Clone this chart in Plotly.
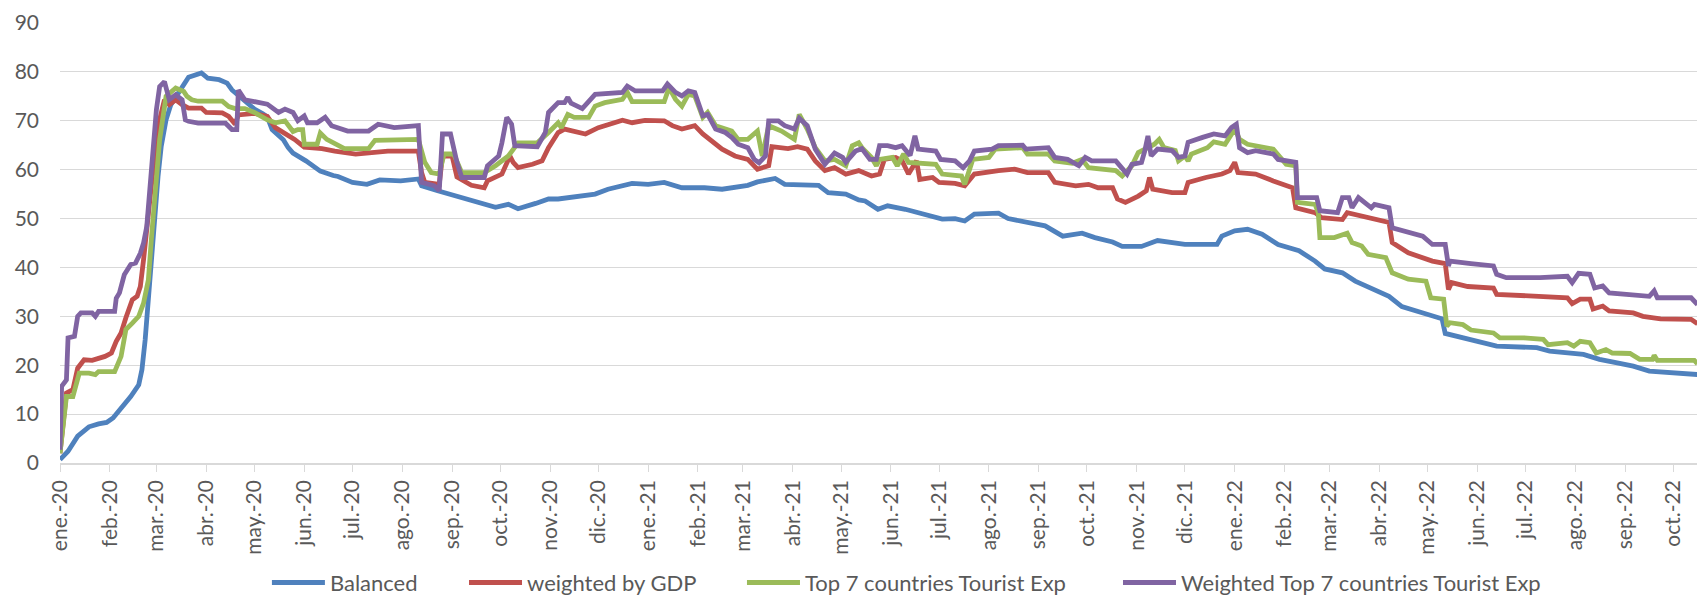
import pandas as pd
import plotly.graph_objects as go

# Day offsets are counted from 1 January 2020
start = pd.Timestamp("2020-01-01")

bal_day = [0, 5, 11, 18, 24, 29, 33, 38, 44, 49, 51, 53, 55, 57, 59, 61, 63, 66, 69, 74, 80, 88, 92, 99,
           104, 107, 113, 118, 121, 126, 129, 132, 139, 142, 145, 153, 162, 170, 173, 182, 191, 199, 212,
           223, 225, 235, 246, 256, 271, 279, 285, 296, 304, 310, 320, 333, 341, 356, 366, 376, 387, 401,
           412, 428, 434, 445, 451, 459, 472, 478, 489, 497, 501, 509, 515, 526, 538, 549, 557, 563, 569,
           584, 590, 601, 613, 624, 636, 644, 655, 661, 673, 683, 700, 720, 723, 731, 739, 748, 758, 771,
           781, 787, 798, 806, 818, 827, 835, 848, 860, 862, 870, 876, 894, 919, 927, 948, 958, 969, 979,
           989, 1002, 1019]
bal_val = [0.7, 2.4, 5.5, 7.4, 8.0, 8.3, 9.2, 11.2, 13.6, 16.0, 19.1, 25.2, 34.1, 42.9, 51.1, 58.6, 64.8,
           70.2, 73.3, 76.0, 78.9, 79.8, 78.7, 78.4, 77.7, 76.3, 74.6, 73.0, 72.4, 71.5, 70.8, 68.2, 66.1,
           64.5, 63.4, 61.8, 59.7, 58.8, 58.6, 57.4, 57.0, 57.9, 57.7, 58.1, 56.7, 55.7, 54.6, 53.6, 52.3,
           52.9, 52.0, 53.1, 54.0, 54.0, 54.4, 55.0, 56.0, 57.2, 57.0, 57.4, 56.3, 56.3, 56.0, 56.8, 57.5,
           58.2, 57.0, 57.0, 56.8, 55.3, 55.0, 53.8, 53.6, 51.9, 52.6, 51.9, 50.9, 49.9, 50.0, 49.5, 50.9,
           51.1, 50.0, 49.3, 48.5, 46.4, 47.0, 46.1, 45.2, 44.3, 44.3, 45.5, 44.7, 44.7, 46.4, 47.5, 47.8,
           46.8, 44.7, 43.4, 41.3, 39.7, 38.9, 37.2, 35.5, 34.1, 32.0, 30.7, 29.5, 26.5, 25.9, 25.3, 23.9,
           23.6, 22.9, 22.2, 21.2, 20.5, 19.8, 18.8, 18.4, 18.1]

gdp_day = [0, 4, 8, 11, 15, 20, 28, 32, 35, 38, 41, 45, 48, 50, 52, 54, 57, 59, 62, 65, 68, 72, 76, 80,
           88, 91, 101, 105, 109, 111, 121, 129, 134, 140, 146, 152, 163, 171, 184, 194, 204, 223, 225,
           227, 236, 238, 244, 247, 256, 264, 266, 275, 280, 282, 285, 294, 300, 304, 310, 314, 322, 327,
           335, 350, 356, 364, 376, 381, 387, 395, 400, 406, 412, 420, 428, 434, 441, 443, 453, 459, 465,
           470, 476, 482, 489, 497, 505, 510, 513, 520, 524, 528, 533, 535, 543, 547, 557, 563, 569, 584,
           594, 602, 615, 619, 632, 640, 646, 655, 658, 663, 671, 676, 678, 680, 692, 700, 702, 713, 723,
           728, 731, 733, 744, 755, 767, 769, 781, 785, 798, 801, 810, 827, 829, 839, 854, 862, 864, 866,
           876, 892, 894, 923, 938, 941, 946, 952, 954, 960, 964, 979, 985, 996, 1015, 1019]
gdp_val = [2.0, 14.3, 15.0, 19.4, 21.1, 21.0, 21.8, 22.5, 24.9, 26.6, 29.7, 33.4, 34.1, 36.1, 41.6, 48.4,
           56.6, 63.4, 70.2, 74.3, 73.3, 74.3, 73.3, 72.6, 72.6, 71.7, 71.6, 70.9, 69.3, 71.2, 71.5, 70.9,
           68.6, 67.5, 66.2, 64.6, 64.3, 63.8, 63.2, 63.5, 63.8, 63.8, 59.4, 57.4, 57.0, 62.8, 62.8, 58.5,
           56.8, 56.3, 57.7, 59.1, 62.8, 61.5, 60.4, 61.1, 61.8, 64.5, 67.6, 68.3, 67.7, 67.3, 68.6, 70.1,
           69.6, 70.1, 70.0, 69.0, 68.3, 69.0, 67.3, 65.9, 64.2, 62.8, 62.1, 60.1, 60.8, 64.7, 64.3, 64.7,
           64.2, 61.8, 59.8, 60.4, 59.1, 59.8, 58.7, 59.1, 62.1, 62.5, 61.8, 59.1, 61.8, 58.0, 58.4, 57.4,
           57.2, 56.7, 59.1, 59.8, 60.1, 59.4, 59.4, 57.4, 56.7, 57.0, 56.3, 56.3, 54.0, 53.3, 54.6, 55.7,
           58.4, 56.0, 55.3, 55.3, 57.4, 58.4, 59.1, 59.8, 61.5, 59.4, 59.1, 57.7, 56.3, 52.2, 51.2, 50.2,
           49.8, 51.2, 50.5, 49.2, 45.1, 43.0, 41.3, 40.8, 35.5, 36.9, 36.1, 35.8, 34.5, 34.1, 33.8, 32.6,
           33.5, 33.5, 31.5, 32.1, 31.1, 30.7, 30.0, 29.5, 29.4, 28.5]

top7_day = [0, 4, 8, 12, 18, 22, 24, 34, 38, 41, 45, 49, 52, 55, 57, 59, 62, 66, 72, 77, 79, 82, 86, 101,
            105, 109, 115, 121, 129, 134, 140, 145, 148, 151, 152, 160, 162, 166, 177, 192, 196, 223, 227,
            231, 236, 239, 245, 250, 264, 271, 279, 285, 297, 304, 310, 312, 316, 320, 329, 333, 339, 350,
            353, 356, 376, 379, 383, 387, 391, 395, 400, 403, 408, 418, 422, 428, 432, 434, 437, 441, 449,
            457, 460, 465, 470, 476, 482, 489, 493, 497, 499, 505, 508, 510, 518, 521, 525, 528, 545, 549,
            561, 563, 568, 578, 582, 599, 602, 615, 619, 630, 636, 640, 657, 661, 667, 671, 677, 681, 684,
            687, 694, 696, 700, 702, 704, 714, 718, 725, 731, 734, 739, 755, 763, 769, 770, 781, 783, 784,
            793, 801, 804, 810, 814, 825, 829, 839, 850, 853, 861, 863, 865, 873, 878, 892, 896, 911, 923,
            926, 938, 942, 946, 952, 956, 962, 966, 977, 983, 991, 992, 994, 1017, 1019]
top7_val = [2.0, 13.6, 13.6, 18.4, 18.4, 18.1, 18.7, 18.7, 21.8, 27.3, 28.6, 30.0, 32.7, 37.5, 46.4, 55.2,
            66.1, 75.0, 76.7, 76.0, 75.0, 74.3, 74.0, 74.0, 72.9, 72.5, 72.5, 71.7, 70.2, 69.6, 70.0, 67.8,
            68.2, 68.2, 65.2, 65.2, 67.5, 66.2, 64.3, 64.3, 66.0, 66.2, 61.5, 59.4, 59.1, 63.2, 63.2, 59.4,
            59.4, 60.8, 62.8, 65.5, 65.5, 67.6, 69.6, 68.6, 71.3, 70.7, 70.7, 73.0, 73.7, 74.4, 75.8, 73.9,
            73.9, 76.8, 74.4, 73.0, 75.4, 75.1, 70.7, 71.7, 69.0, 67.9, 66.2, 66.2, 67.3, 67.9, 62.8, 69.0,
            67.9, 66.2, 71.3, 68.3, 64.5, 61.8, 62.1, 60.8, 64.9, 65.5, 64.5, 62.5, 60.8, 62.1, 62.5, 60.8,
            63.2, 61.5, 61.1, 59.1, 58.7, 57.0, 62.1, 62.5, 64.2, 64.5, 63.2, 63.2, 61.8, 61.3, 62.1, 60.4,
            59.8, 58.7, 60.8, 63.5, 64.5, 65.2, 66.2, 64.5, 63.9, 61.8, 62.8, 61.8, 63.2, 64.5, 65.7, 65.2,
            68.3, 66.2, 65.2, 64.2, 61.1, 60.8, 53.3, 52.9, 51.2, 46.1, 46.1, 47.0, 45.1, 44.4, 42.7, 42.0,
            38.9, 37.6, 37.2, 33.8, 33.5, 28.0, 28.7, 28.3, 27.2, 26.6, 25.6, 25.6, 25.3, 24.2, 24.6, 23.9,
            24.9, 24.6, 22.5, 23.2, 22.5, 22.4, 21.2, 21.2, 22.0, 21.0, 21.0, 20.3]

wtop7_day = [0, 1, 4, 5, 9, 11, 13, 20, 22, 24, 34, 35, 37, 40, 44, 47, 50, 52, 54, 56, 58, 60, 62, 65,
             68, 72, 76, 78, 80, 86, 103, 107, 110, 111, 115, 121, 129, 136, 140, 145, 148, 152, 154, 160,
             165, 169, 179, 192, 198, 208, 219, 223, 225, 233, 236, 238, 243, 247, 250, 264, 266, 273, 275,
             278, 281, 283, 297, 302, 304, 310, 314, 316, 318, 325, 333, 350, 353, 358, 375, 378, 383, 387,
             391, 395, 400, 403, 408, 414, 418, 422, 428, 432, 435, 439, 441, 447, 451, 457, 460, 465, 470,
             476, 482, 487, 489, 495, 499, 504, 508, 510, 515, 520, 524, 529, 532, 534, 545, 548, 557, 562,
             566, 569, 580, 584, 599, 601, 615, 619, 627, 634, 638, 642, 657, 661, 664, 667, 673, 675, 677,
             679, 683, 692, 696, 700, 702, 711, 718, 725, 729, 732, 734, 739, 744, 755, 758, 769, 770, 782,
             784, 795, 798, 802, 804, 808, 816, 818, 827, 829, 839, 848, 854, 862, 864, 865, 878, 892, 894,
             900, 921, 938, 941, 945, 952, 955, 960, 964, 989, 992, 994, 1015, 1019]
wtop7_val = [2.7, 15.7, 17.0, 25.6, 25.9, 30.0, 30.7, 30.7, 30.0, 31.0, 31.0, 33.7, 34.8, 38.5, 40.6, 40.9,
             42.9, 45.0, 48.4, 56.6, 65.4, 72.3, 77.0, 78.0, 74.3, 75.3, 74.3, 70.2, 69.9, 69.5, 69.5, 68.2,
             68.2, 76.3, 74.3, 74.0, 73.4, 71.7, 72.4, 71.7, 70.0, 71.0, 69.6, 69.6, 70.7, 69.0, 67.9, 67.9,
             69.3, 68.6, 69.0, 69.0, 57.4, 56.7, 55.7, 67.3, 67.3, 61.5, 58.4, 58.4, 60.8, 62.8, 65.5, 70.7,
             69.3, 64.9, 64.7, 67.6, 71.7, 73.7, 73.7, 74.8, 73.6, 72.5, 75.4, 75.8, 77.1, 76.1, 76.1, 77.5,
             75.8, 75.1, 76.1, 75.8, 71.0, 71.3, 68.3, 67.6, 66.6, 65.2, 64.5, 62.1, 61.4, 62.8, 70.0, 70.0,
             69.0, 68.3, 70.5, 69.0, 64.2, 61.1, 63.4, 62.5, 61.5, 63.8, 64.3, 62.1, 62.1, 64.9, 64.9, 64.5,
             64.9, 62.9, 66.9, 64.2, 63.8, 62.1, 61.8, 60.4, 61.8, 63.8, 64.2, 64.9, 65.0, 64.2, 64.5, 62.5,
             62.1, 60.8, 62.5, 61.8, 61.8, 60.1, 59.1, 61.1, 61.5, 63.8, 66.9, 62.8, 64.2, 63.9, 62.5, 62.8,
             65.6, 66.6, 67.3, 66.9, 68.6, 69.3, 64.5, 63.5, 63.9, 63.2, 62.1, 61.5, 54.3, 54.3, 51.6, 51.2,
             54.3, 54.3, 52.2, 54.3, 52.2, 52.9, 52.2, 48.1, 47.1, 46.4, 44.7, 44.7, 40.3, 41.3, 40.8, 40.3,
             38.6, 37.9, 37.9, 38.2, 36.9, 38.8, 38.6, 35.8, 36.2, 34.8, 34.1, 35.2, 33.8, 33.8, 32.4]

month_ticks = pd.date_range("2020-01-01", "2022-10-01", freq="MS")
month_labels = ["ene.-20", "feb.-20", "mar.-20", "abr.-20", "may.-20", "jun.-20", "jul.-20", "ago.-20",
                "sep.-20", "oct.-20", "nov.-20", "dic.-20",
                "ene.-21", "feb.-21", "mar.-21", "abr.-21", "may.-21", "jun.-21", "jul.-21", "ago.-21",
                "sep.-21", "oct.-21", "nov.-21", "dic.-21",
                "ene.-22", "feb.-22", "mar.-22", "abr.-22", "may.-22", "jun.-22", "jul.-22", "ago.-22",
                "sep.-22", "oct.-22"]

series = [
    ("Balanced", bal_day, bal_val, "#4F81BD", "legend", 0.1264),
    ("weighted by GDP", gdp_day, gdp_val, "#C0504D", "legend2", 0.2468),
    ("Top 7 countries Tourist Exp", top7_day, top7_val, "#9BBB59", "legend3", 0.4166),
    ("Weighted Top 7 countries Tourist Exp", wtop7_day, wtop7_val, "#8064A2", "legend4", 0.6463),
]

grey = "#595959"
font = "Lato, 'Open Sans', sans-serif"

fig = go.Figure()
legends = {}
for name, days, vals, color, leg, lx in series:
    dates = start + pd.to_timedelta(days, unit="D")
    fig.add_trace(go.Scatter(x=dates, y=vals, mode="lines", name=name, legend=leg,
                             line=dict(color=color, width=4.8)))
    legends[leg] = dict(orientation="h", x=lx, xanchor="left", y=-0.272, yanchor="middle",
                        font=dict(family=font, size=22, color=grey), bgcolor="rgba(0,0,0,0)",
                        itemwidth=53)

fig.update_layout(
    width=1697, height=598,
    margin=dict(l=60, r=0, t=23, b=135, autoexpand=False),
    plot_bgcolor="white", paper_bgcolor="white",
    font=dict(family=font, color=grey),
    showlegend=True,
    **legends,
)

fig.update_xaxes(
    type="date",
    range=["2020-01-01", "2022-10-15 16:00"],
    tickvals=month_ticks, ticktext=month_labels,
    tickangle=-90, tickfont=dict(size=21, color=grey),
    ticks="outside", ticklen=7, tickwidth=1.3, tickcolor="#D9D9D9",
    showline=True, linecolor="#D9D9D9", linewidth=1.5,
    showgrid=False, zeroline=False,
)
fig.update_yaxes(
    range=[0, 90], dtick=10,
    showgrid=True, gridcolor="#D9D9D9", gridwidth=1.3,
    zeroline=False, showline=False, ticks="",
    tickfont=dict(size=21, color=grey), ticklabelstandoff=20,
)

fig.write_html("out.html", config={"displayModeBar": False},
               post_script="document.body.style.margin='0';")
